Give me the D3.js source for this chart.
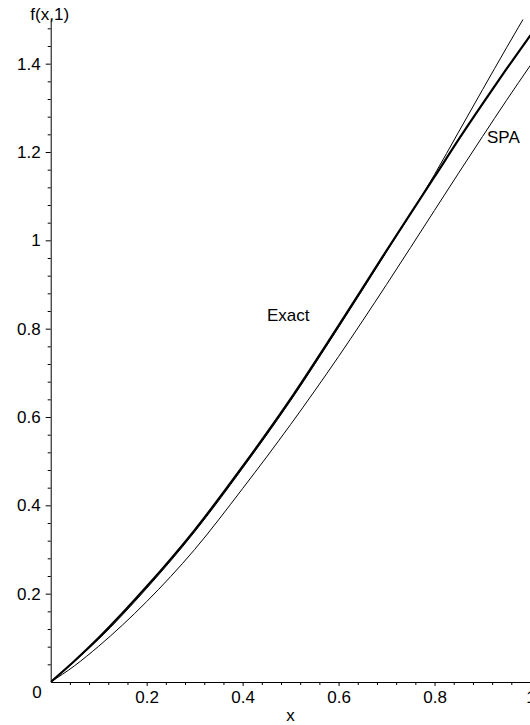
<!DOCTYPE html>
<html>
<head>
<meta charset="utf-8">
<script src="https://cdn.jsdelivr.net/npm/d3@7"></script>
<style>
  body { margin: 0; background: #fff; }
  svg { display: block; font-family: "Liberation Sans", Arial, sans-serif; }
</style>
</head>
<body>
<svg width="530" height="725"></svg>
<script>
// values
const xs     = [0, 0.05, 0.1, 0.2, 0.3, 0.4, 0.5, 0.6, 0.7, 0.8, 0.85, 0.9, 0.95, 1];
const exactY = [0, 0.048, 0.100, 0.216, 0.344, 0.488, 0.641, 0.807, 0.977, 1.144, 1.228, 1.309, 1.388, 1.4645];
const spaY   = [0, 0.037, 0.081, 0.182, 0.300, 0.438, 0.583, 0.737, 0.900, 1.068, 1.152, 1.235, 1.317, 1.3966];
const otherY = [0, 0.047, 0.097, 0.212, 0.340, 0.484, 0.637, 0.803, 0.974, 1.149, 1.245, 1.341, 1.436, 1.529];

const xTicks = [0.2, 0.4, 0.6, 0.8, 1];
const yTicks = [0.2, 0.4, 0.6, 0.8, 1, 1.2, 1.4];

// The svg
const svg = d3.select("svg"),
    width = +svg.attr("width"),
    height = +svg.attr("height");

const x = d3.scaleLinear().domain([0, 1]).range([50.7, 530.5]);
const y = d3.scaleLinear().domain([0, 1.5]).range([682, 19.5]);

svg.append("defs").append("clipPath").attr("id", "plot")
  .append("rect")
    .attr("x", x(0)).attr("y", y(1.5))
    .attr("width", x(1) - x(0) + 2).attr("height", y(0) - y(1.5));

// minor ticks every 0.04
const minorX = d3.range(0.04, 1.001, 0.04).filter(v => Math.abs(v / 0.2 - Math.round(v / 0.2)) > 1e-6);
const minorY = d3.range(0.04, 1.501, 0.04).filter(v => Math.abs(v / 0.2 - Math.round(v / 0.2)) > 1e-6);

svg.append("g")
    .attr("transform", `translate(0,${y(0)})`)
    .call(d3.axisBottom(x).tickValues(xTicks).tickSize(4).tickPadding(5)
        .tickFormat(d3.format("")).tickSizeOuter(0));
svg.append("g")
    .attr("transform", `translate(0,${y(0)})`)
    .call(d3.axisBottom(x).tickValues(minorX).tickSize(3).tickFormat("").tickSizeOuter(0))
    .select(".domain").remove();

svg.append("g")
    .attr("transform", `translate(${x(0)},0)`)
    .call(d3.axisLeft(y).tickValues(yTicks).tickSize(5).tickPadding(5)
        .tickFormat(d3.format("")).tickSizeOuter(0));
svg.append("g")
    .attr("transform", `translate(${x(0)},0)`)
    .call(d3.axisLeft(y).tickValues(minorY).tickSize(3).tickFormat("").tickSizeOuter(0))
    .select(".domain").remove();

svg.selectAll(".tick text")
    .style("font-size", "17px")
    .style("font-family", "'Liberation Sans', Arial, sans-serif")
    .attr("fill", "#000");
svg.selectAll(".domain, .tick line").attr("stroke", "#000");

// the "0" at the corner
svg.append("text")
    .attr("x", x(0) - 9).attr("y", y(0) + 15.5)
    .attr("text-anchor", "end")
    .style("font-size", "17px")
    .text("0");

// axis titles
svg.append("text")
    .attr("x", x(0) - 1).attr("y", 20)
    .attr("text-anchor", "middle")
    .style("font-size", "17px")
    .text("f(x,1)");
svg.append("text")
    .attr("x", x(0.5)).attr("y", 721)
    .attr("text-anchor", "middle")
    .style("font-size", "17px")
    .text("x");

// curves
const line = d3.line()
    .x(d => x(d[0]))
    .y(d => y(d[1]))
    .curve(d3.curveMonotoneX);

const curves = [
  { values: otherY, width: 1 },
  { values: spaY, width: 1 },
  { values: exactY, width: 2.2 }
];

svg.append("g")
    .attr("clip-path", "url(#plot)")
  .selectAll("path")
  .data(curves)
  .join("path")
    .attr("d", c => line(xs.map((v, i) => [v, c.values[i]])))
    .attr("fill", "none")
    .attr("stroke", "#000")
    .attr("stroke-width", c => c.width);

// curve labels
svg.append("text")
    .attr("x", 267).attr("y", 321)
    .style("font-size", "17px")
    .text("Exact");
svg.append("text")
    .attr("x", 487).attr("y", 143)
    .style("font-size", "17px")
    .text("SPA");
</script>
</body>
</html>
